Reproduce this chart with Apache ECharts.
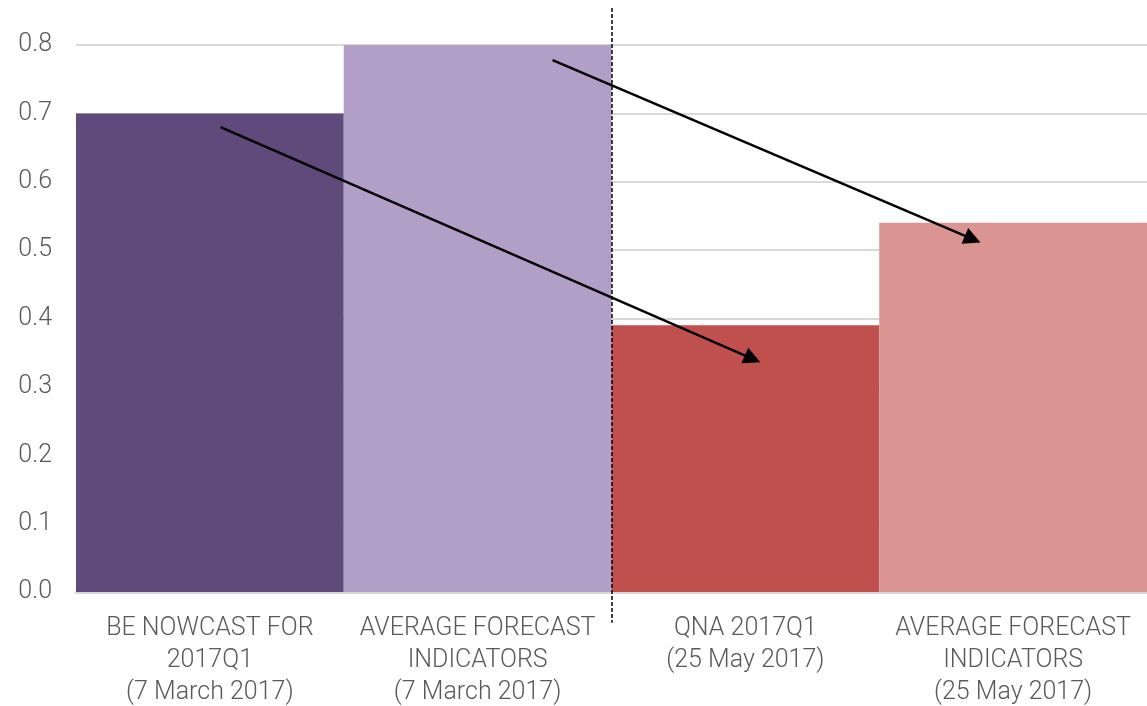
<!DOCTYPE html>
<html>
<head>
<meta charset="utf-8">
<script src="https://cdn.jsdelivr.net/npm/echarts@6/dist/echarts.min.js"></script>
<style>
  html, body { margin: 0; padding: 0; background: #fff; }
  #chart { width: 1147px; height: 706px; }
</style>
</head>
<body>
<div id="chart"></div>
<script>
// Categories and values
const categories = [
  'BE NOWCAST FOR\n2017Q1\n(7 March 2017)',
  'AVERAGE FORECAST\nINDICATORS\n(7 March 2017)',
  'QNA 2017Q1\n(25 May 2017)',
  'AVERAGE FORECAST\nINDICATORS\n(25 May 2017)'
];
const values = [0.70, 0.80, 0.39, 0.54];
const barColors = ['#5f4a7b', '#b19fc7', '#c0504d', '#da9593'];

// Arrows linking March estimates to May outcomes, in [x position (0..4), value] space;
// the end point is the centre of the arrowhead
const arrows = [
  [[0.54, 0.68], [2.527, 0.341]],
  [[1.78, 0.778], [3.349, 0.516]]
];
// Vertical dashed separator between the two dates
const separator = [[2.0, 0.854], [2.0, -0.045]];

const font = 'Roboto, "Liberation Sans", sans-serif';

const chart = echarts.init(document.getElementById('chart'));
chart.setOption({
  animation: false,
  grid: {
    left: 76, right: 0, top: 45, bottom: 114,
    containLabel: false, outerBoundsMode: 'none'
  },
  xAxis: [
    {
      type: 'category',
      data: categories,
      axisTick: { show: false },
      axisLine: { lineStyle: { color: '#d9d9d9', width: 3 } },
      axisLabel: {
        color: '#595959', fontSize: 25, fontFamily: font, fontWeight: 300,
        lineHeight: 32, margin: 21, interval: 0
      }
    },
    { type: 'value', min: 0, max: 4, show: false }
  ],
  yAxis: {
    type: 'value', min: 0, max: 0.8, interval: 0.1,
    axisLine: { show: false }, axisTick: { show: false },
    splitLine: { lineStyle: { color: '#d9d9d9', width: 2 } },
    axisLabel: {
      color: '#595959', fontSize: 25, fontFamily: font, fontWeight: 300,
      margin: 24, formatter: v => v.toFixed(1)
    }
  },
  series: [
    {
      type: 'bar',
      data: values.map((v, i) => ({ value: v, itemStyle: { color: barColors[i] } })),
      barCategoryGap: '0%',
      z: 2
    },
    {
      type: 'lines',
      coordinateSystem: 'cartesian2d',
      xAxisIndex: 1,
      clip: false,
      symbol: ['none', 'triangle'],
      symbolSize: [14, 17],
      lineStyle: { color: '#000', width: 2.5, opacity: 1 },
      data: arrows.map(c => ({ coords: c })),
      z: 5
    },
    {
      type: 'lines',
      coordinateSystem: 'cartesian2d',
      xAxisIndex: 1,
      clip: false,
      symbol: 'none',
      lineStyle: { color: '#000', width: 1.5, type: [4, 2], opacity: 1 },
      data: [{ coords: separator }],
      z: 4
    }
  ]
});
</script>
</body>
</html>
